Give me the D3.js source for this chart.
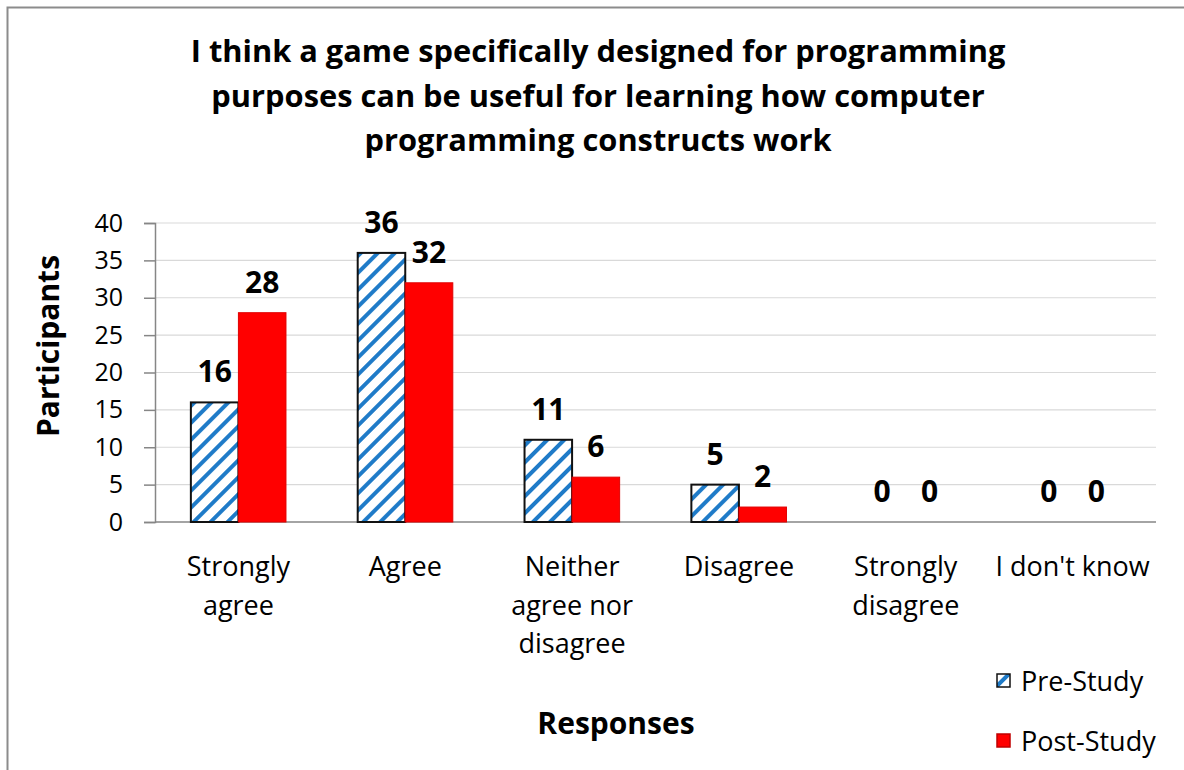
<!DOCTYPE html>
<html>
<head>
<meta charset="utf-8">
<script src="https://cdn.jsdelivr.net/npm/d3@7"></script>
<style>
  html, body { margin: 0; padding: 0; background: #fff; }
  svg { display: block; }
  text { font-family: "Open Sans", Lato, sans-serif; fill: #000; }
</style>
</head>
<body>
<script>
// Survey responses, pre and post study
const categories = [
  ["Strongly", "agree"],
  ["Agree"],
  ["Neither", "agree nor", "disagree"],
  ["Disagree"],
  ["Strongly", "disagree"],
  ["I don't know"]
];
const seriesNames = ["Pre-Study", "Post-Study"];
const preStudy  = [16, 36, 11, 5, 0, 0];
const postStudy = [28, 32, 6, 2, 0, 0];
const yTicks = [0, 5, 10, 15, 20, 25, 30, 35, 40];
const titleLines = [
  "I think a game specifically designed for programming",
  "purposes can be useful for learning how computer",
  "programming constructs work"
];

const W = 1184, H = 770;
const plot = { left: 155, right: 1156, top: 223, bottom: 522 };

const svg = d3.select("body").append("svg")
  .attr("width", W).attr("height", H);

// diagonal blue hatch for the pre-study series
const defs = svg.append("defs");
const pat = defs.append("pattern")
  .attr("id", "hatch")
  .attr("patternUnits", "userSpaceOnUse")
  .attr("width", 12).attr("height", 12)
  .attr("patternTransform", "rotate(45)");
pat.append("rect").attr("width", 12).attr("height", 12).attr("fill", "#fff");
pat.append("rect").attr("x", 0).attr("y", 0).attr("width", 4).attr("height", 12)
  .attr("fill", "#1f7bc8");

// outer frame
svg.append("path")
  .attr("d", `M7.5,${H} V7.5 H${W}`)
  .attr("fill", "none").attr("stroke", "#8c8c8c").attr("stroke-width", 2);

const keys = categories.map((c, i) => i);
const x = d3.scaleBand().domain(keys).range([plot.left, plot.right]);
const barW = x.bandwidth() * 0.285;
const y = d3.scaleLinear().domain([0, 40]).range([plot.bottom, plot.top]);

// gridlines
svg.append("g").selectAll("line").data(yTicks.filter(t => t > 0)).join("line")
  .attr("x1", plot.left).attr("x2", plot.right)
  .attr("y1", d => y(d)).attr("y2", d => y(d))
  .attr("stroke", "#d9d9d9").attr("stroke-width", 1.2);

// y axis
const yAxis = svg.append("g")
  .attr("transform", `translate(${plot.left},0)`)
  .call(d3.axisLeft(y).tickValues(yTicks).tickSize(11).tickPadding(21));
yAxis.select(".domain").attr("stroke", "#868686").attr("stroke-width", 1.5);
yAxis.selectAll(".tick line").attr("stroke", "#868686").attr("stroke-width", 1.5);
yAxis.selectAll(".tick text")
  .style("font-family", "'Open Sans', sans-serif")
  .attr("font-size", 25).attr("fill", "#000");

// x axis baseline
svg.append("line")
  .attr("x1", plot.left).attr("x2", plot.right)
  .attr("y1", y(0)).attr("y2", y(0))
  .attr("stroke", "#868686").attr("stroke-width", 1.5);

const series = [
  { name: seriesNames[0], values: preStudy, fill: "url(#hatch)", stroke: "#111", off: -1 },
  { name: seriesNames[1], values: postStudy, fill: "#ff0000", stroke: "#e00000", off: 0 }
];

series.forEach(s => {
  const g = svg.append("g");
  g.selectAll("rect").data(s.values).join("rect")
    .attr("x", (d, i) => x(i) + x.bandwidth() / 2 + s.off * barW)
    .attr("y", d => y(d))
    .attr("width", barW)
    .attr("height", d => y(0) - y(d))
    .attr("fill", s.fill)
    .attr("stroke", d => d > 0 ? s.stroke : "none")
    .attr("stroke-width", s.off < 0 ? 2 : 1);
  g.selectAll("text").data(s.values).join("text")
    .attr("x", (d, i) => x(i) + x.bandwidth() / 2 + s.off * barW + barW / 2)
    .attr("y", d => y(d) - 20)
    .attr("text-anchor", "middle")
    .attr("font-size", 30).attr("font-weight", 700)
    .text(d => d);
});

// category labels
const xl = svg.append("g");
categories.forEach((lines, i) => {
  const t = xl.append("text")
    .attr("text-anchor", "middle")
    .attr("font-size", 27);
  lines.forEach((ln, j) => {
    t.append("tspan")
      .attr("x", x(i) + x.bandwidth() / 2)
      .attr("y", 576 + j * 38.5)
      .text(ln);
  });
});

// title
const title = svg.append("text")
  .attr("text-anchor", "middle")
  .attr("font-size", 30.8).attr("font-weight", 700);
titleLines.forEach((ln, j) => {
  title.append("tspan").attr("x", 598).attr("y", 62 + j * 44.5).text(ln);
});

// axis titles
svg.append("text")
  .attr("transform", "translate(59,346) rotate(-90)")
  .attr("text-anchor", "middle")
  .attr("font-size", 30).attr("font-weight", 700)
  .text("Participants");
svg.append("text")
  .attr("x", 616).attr("y", 734)
  .attr("text-anchor", "middle")
  .attr("font-size", 30).attr("font-weight", 700)
  .text("Responses");

// legend
const legend = svg.append("g");
series.forEach((s, i) => {
  const ly = 674 + i * 60;
  legend.append("rect")
    .attr("x", 997).attr("y", ly).attr("width", 13).attr("height", 13)
    .attr("fill", s.fill).attr("stroke", s.off < 0 ? "#111" : "#c00000")
    .attr("stroke-width", 1.5);
  legend.append("text")
    .attr("x", 1021).attr("y", ly + 17)
    .attr("font-size", 27)
    .text(s.name);
});
</script>
</body>
</html>
